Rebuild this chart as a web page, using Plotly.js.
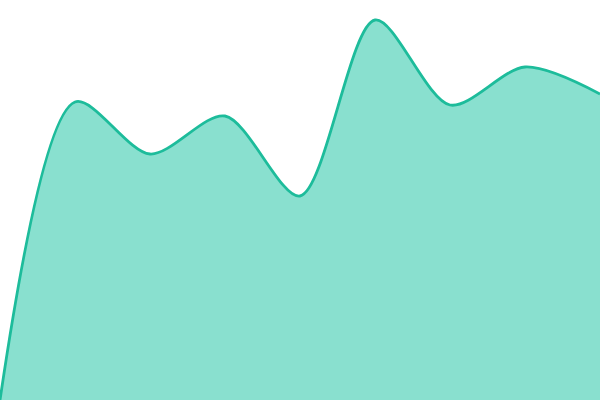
<!DOCTYPE html>
<html>
<head>
<meta charset="utf-8">
<script src="https://cdn.plot.ly/plotly-3.0.1.min.js"></script>
<style>
  html, body { margin: 0; padding: 0; background: #fff; }
  #chart { width: 600px; height: 400px; }
</style>
</head>
<body>
<div id="chart"></div>
<script>
// sample positions and values
const xs = [0, 1, 2, 3, 4, 5, 6, 7, 8];
const values = [0, 298, 246, 284, 204, 380, 295, 333, 306];

const trace = {
  type: 'scatter',
  mode: 'lines',
  x: xs,
  y: values,
  fill: 'tozeroy',
  fillcolor: '#89e0cf',
  line: { color: '#1dbc9b', width: 2.8, shape: 'spline', smoothing: 0.85 },
  hoverinfo: 'skip',
};

const layout = {
  width: 600,
  height: 400,
  margin: { l: 0, r: 0, t: 0, b: 0 },
  paper_bgcolor: '#ffffff',
  plot_bgcolor: '#ffffff',
  xaxis: { visible: false, range: [0, 8], fixedrange: true },
  yaxis: { visible: false, range: [0, 400], fixedrange: true },
  showlegend: false,
};

Plotly.newPlot('chart', [trace], layout, { displayModeBar: false, staticPlot: true });
</script>
</body>
</html>
